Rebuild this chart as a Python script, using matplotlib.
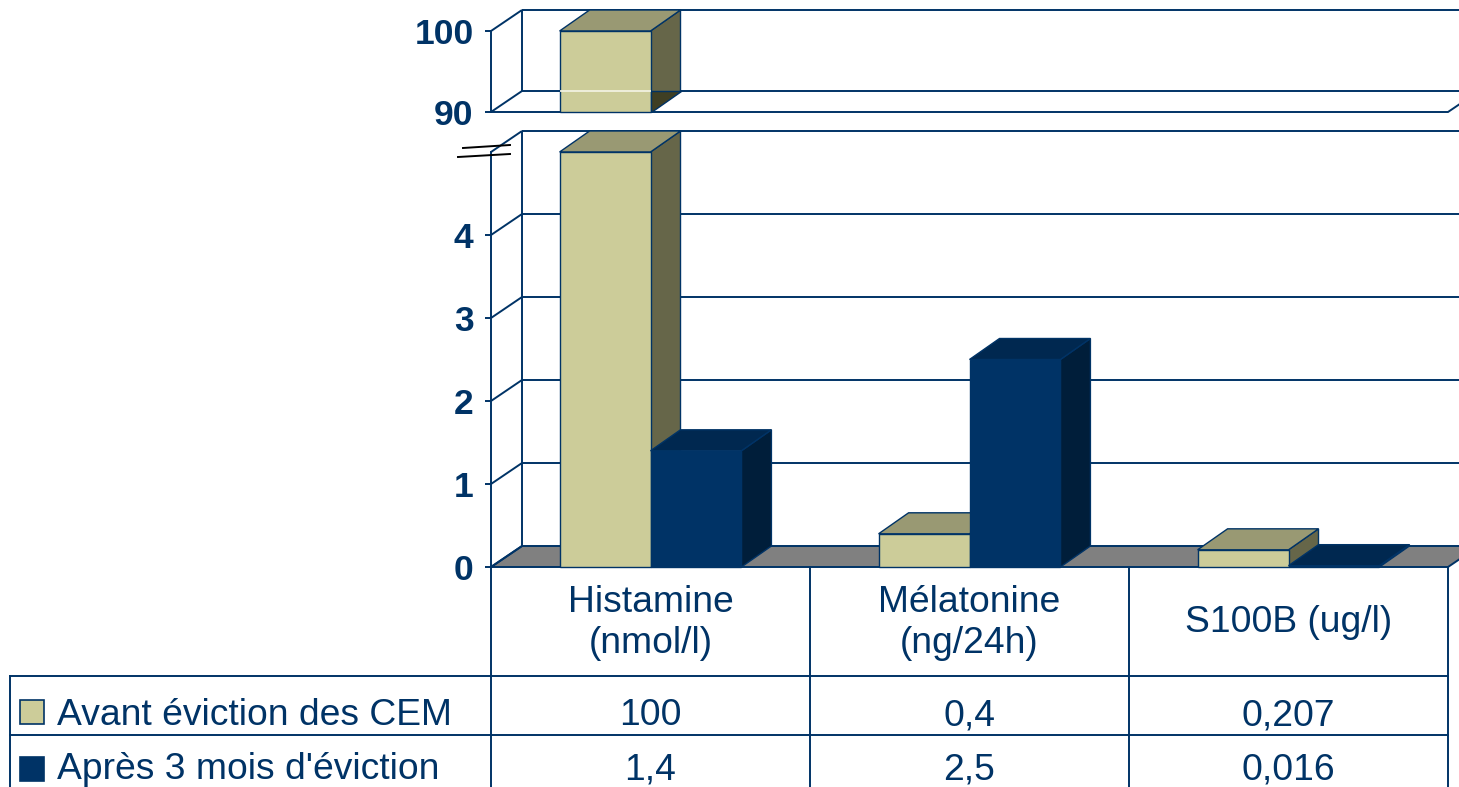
import matplotlib
matplotlib.use("Agg")
import matplotlib.pyplot as plt
from matplotlib.patches import Polygon, Rectangle
from matplotlib.lines import Line2D

# ---------------- data ----------------
categories = ["Histamine\n(nmol/l)", "Mélatonine\n(ng/24h)", "S100B (ug/l)"]
series_names = ["Avant éviction des CEM", "Après 3 mois d'éviction"]
avant = [100, 0.4, 0.207]
apres = [1.4, 2.5, 0.016]
lower_ticks = [0, 1, 2, 3, 4]
upper_ticks = [90, 100]

# ---------------- styles ----------------
plt.rcParams['font.family'] = ['Liberation Sans', 'DejaVu Sans']
NAVY = '#003366'
LW = 1.4
AV = dict(front='#CCCC99', top='#999973', side='#666649', low='#3f3f24')
AP = dict(front='#003366', top='#002850', side='#001E3A', low='#001428')

W, H = 1459, 787
fig = plt.figure(figsize=(W / 100, H / 100), dpi=100)


def fx(p):
    return p / W


def fy(p):
    return 1 - p / H


lo = fig.add_axes([fx(491), fy(567), fx(1448) - fx(491), fy(152) - fy(567)])
hi = fig.add_axes([fx(491), fy(112), fx(1448) - fx(491), fy(31) - fy(112)])
lo.set_xlim(-0.5, 2.5)
lo.set_ylim(0, 5)
hi.set_xlim(-0.5, 2.5)
hi.set_ylim(90, 100)

for ax, ticks in ((lo, lower_ticks), (hi, upper_ticks)):
    ax.set_facecolor('none')
    ax.patch.set_visible(False)
    for s in ('top', 'right', 'bottom'):
        ax.spines[s].set_visible(False)
    ax.spines['left'].set_color(NAVY)
    ax.spines['left'].set_linewidth(LW)
    ax.spines['left'].set_zorder(50)
    ax.xaxis.set_visible(False)
    ax.set_yticks(ticks)
    ax.set_yticklabels([str(t) for t in ticks], fontweight='bold')
    ax.tick_params(axis='y', length=4.5, width=LW, color=NAVY, pad=8,
                   labelsize=25.5, labelcolor=NAVY)


def depth(ax, dpx, dpy):
    bb = ax.get_position()
    xl = ax.get_xlim()
    yl = ax.get_ylim()
    ux = bb.width * W / (xl[1] - xl[0])
    uy = bb.height * H / (yl[1] - yl[0])
    return dpx / ux, dpy / uy


def line(ax, xs, ys, color=NAVY, lw=LW, z=2):
    ax.add_line(Line2D(xs, ys, color=color, lw=lw, clip_on=False, zorder=z,
                       solid_capstyle='butt'))


def poly(ax, pts, fc, z, ec=NAVY, lw=1.0):
    ax.add_patch(Polygon(pts, closed=True, fc=fc, ec=ec, lw=lw, clip_on=False,
                         zorder=z, joinstyle='miter'))


x0, x1 = -0.5, 2.5

# ---------- lower panel frame ----------
dxf, dyf = depth(lo, 31, 21)
poly(lo, [(x0, 0), (x1, 0), (x1 + dxf, dyf), (x0 + dxf, dyf)], '#808080', 1, lw=LW)
line(lo, [x0 + dxf] * 2, [dyf, 5 + dyf])
for v in [1, 2, 3, 4, 5]:
    line(lo, [x0 + dxf, x1 + dxf], [v + dyf] * 2)
for v in [0, 1, 2, 3, 4, 5]:
    line(lo, [x0, x0 + dxf], [v, v + dyf])

# ---------- upper panel frame ----------
dxh, dyh = depth(hi, 31, 21)
poly(hi, [(x0, 90), (x1, 90), (x1 + dxh, 90 + dyh), (x0 + dxh, 90 + dyh)], 'white', 1, lw=LW)
line(hi, [x0 + dxh] * 2, [90 + dyh, 100 + dyh])
line(hi, [x0 + dxh, x1 + dxh], [100 + dyh] * 2)
line(hi, [x0, x0 + dxh], [100, 100 + dyh])


# ---------- bars ----------
def bar3d(ax, xa, xb, y0, y1, c, z):
    bdx, bdy = depth(ax, 30, 21)
    poly(ax, [(xb, y0), (xb + bdx, y0 + bdy), (xb + bdx, y1 + bdy), (xb, y1)], c['side'], z)
    poly(ax, [(xa, y1), (xa + bdx, y1 + bdy), (xb + bdx, y1 + bdy), (xb, y1)], c['top'], z + 0.1)
    poly(ax, [(xa, y0), (xb, y0), (xb, y1), (xa, y1)], c['front'], z + 0.2)
    return bdx, bdy


bw = 0.285
z = 5
for i, (a, b) in enumerate(zip(avant, apres)):
    bar3d(lo, i - bw, i, 0, min(a, 5), AV, z)
    z += 1
    bar3d(lo, i, i + bw, 0, min(b, 5), AP, z)
    z += 1
    if a > 90:
        bdx, bdy = bar3d(hi, i - bw, i, 90, min(a, 100), AV, z)
        poly(hi, [(i, 90), (i, 90 + bdy), (i + bdx, 90 + bdy)], AV['low'], z + 0.3)
        line(hi, [i - bw, i], [90 + dyh] * 2, color='#f4f4e6', lw=1.2, z=z + 0.4)
        z += 1

# ---------- break marks ----------
fig.add_artist(Line2D([fx(463), fx(510)], [fy(148), fy(145)], color='black', lw=1.4))
fig.add_artist(Line2D([fx(458), fx(510)], [fy(157), fy(154)], color='black', lw=1.4))


# ---------- data table ----------
def xfig(x):
    return fig.transFigure.inverted().transform(lo.transData.transform((x, 0)))[0]


def fline(xs, ys):
    fig.add_artist(Line2D(xs, ys, transform=fig.transFigure, color=NAVY, lw=LW))


for xe in [-0.5, 0.5, 1.5, 2.5]:
    fline([xfig(xe)] * 2, [fy(567), 0])
fline([fx(10), xfig(2.5)], [fy(676)] * 2)
fline([fx(10), xfig(2.5)], [fy(735)] * 2)
fline([fx(10)] * 2, [fy(676), 0])

TXT = 26.8
for i, cat in enumerate(categories):
    fig.text(xfig(i), fy(623), cat, ha='center', va='center', fontsize=TXT,
             color=NAVY, linespacing=1.25)


def fmt(v):
    return f"{v:g}".replace('.', ',')


row_base = [fy(725), fy(779)]
for r, (vals, name, c) in enumerate(zip([avant, apres], series_names, [AV, AP])):
    for i, v in enumerate(vals):
        fig.text(xfig(i), row_base[r], fmt(v), ha='center', va='baseline',
                 fontsize=TXT, color=NAVY)
    fig.text(fx(57), row_base[r], name, ha='left', va='baseline', fontsize=TXT, color=NAVY)
    sq_top = 700 if r == 0 else 757
    fig.add_artist(Rectangle((fx(20), fy(sq_top + 24)), 24 / W, 24 / H,
                             transform=fig.transFigure, fc=c['front'], ec=NAVY, lw=1.2))

fig.savefig("out.png", dpi=100)
